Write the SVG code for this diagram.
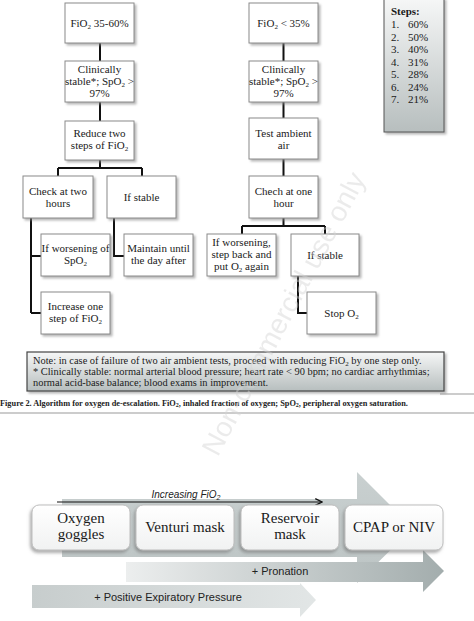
<svg xmlns="http://www.w3.org/2000/svg" width="474" height="621" viewBox="0 0 474 621">
<style>
.bx{fill:#fff;stroke:#8a8a8a;stroke-width:1;filter:url(#sh)}
.t{font-family:"Liberation Serif",serif;font-size:11px;fill:#1a1a1a;text-anchor:middle}
.c{stroke:#111;stroke-width:2;fill:none}
.st{font-family:"Liberation Serif",serif;font-size:11px;fill:#1a1a1a}
.nt{font-family:"Liberation Serif",serif;font-size:10.4px;fill:#1a1a1a}
.rb{fill:url(#wg);stroke:#bdbdbd;stroke-width:1;filter:url(#sh2)}
.bt{font-family:"Liberation Serif",serif;font-size:15px;fill:#1a1a1a;text-anchor:middle}
.at{font-family:"Liberation Sans",sans-serif;font-size:11px;fill:#222;text-anchor:middle}
</style>
<defs>
<filter id="sh" x="-10%" y="-10%" width="130%" height="130%"><feDropShadow dx="2" dy="2" stdDeviation="0.8" flood-color="#888" flood-opacity="0.6"/></filter>
<filter id="sh2" x="-15%" y="-15%" width="130%" height="140%"><feDropShadow dx="-1.5" dy="2.5" stdDeviation="1.5" flood-color="#777" flood-opacity="0.6"/></filter>
<linearGradient id="gg" x1="0" y1="0" x2="0" y2="1"><stop offset="0" stop-color="#f6f7f7"/><stop offset="1" stop-color="#b7bebe"/></linearGradient>
<linearGradient id="wg" x1="0" y1="0" x2="0" y2="1"><stop offset="0" stop-color="#ffffff"/><stop offset="1" stop-color="#f1f2f2"/></linearGradient>
<linearGradient id="bg" x1="0" y1="0" x2="0" y2="1"><stop offset="0" stop-color="#c9d0d0"/><stop offset="1" stop-color="#bcc4c4"/></linearGradient>
<linearGradient id="pg" x1="0" y1="0" x2="1" y2="0"><stop offset="0" stop-color="#eceeee"/><stop offset="1" stop-color="#a3adad"/></linearGradient>
<linearGradient id="eg" x1="0" y1="0" x2="1" y2="0"><stop offset="0" stop-color="#c7cdcd"/><stop offset="1" stop-color="#e2e6e6"/></linearGradient>
<marker id="ah" viewBox="0 0 10 10" refX="9" refY="5" markerWidth="7" markerHeight="7" orient="auto"><path d="M1,1 L9,5 L1,9" fill="none" stroke="#111" stroke-width="1.6"/></marker>
</defs>
<rect width="474" height="621" fill="#fff"/>

<g id="connectors">
<path class="c" d="M100,43V61 M100,102V121 M100,160V168 M58,168H142 M58,168V176 M142,168V176"/>
<path class="c" d="M31,218V313 M31,256H41 M31,313H41 M114,218V256H124"/>
<path class="c" d="M283.5,43V61 M283.5,102V118 M283.5,159V176 M283.5,218V226 M242,226H325 M242,226V234 M325,226V234 M298,276V313H307"/>
</g>

<g id="n1"><rect class="bx" x="65" y="3" width="69" height="40"/><text class="t" x="99.5" y="27">FiO<tspan font-size="7" dy="2">2</tspan><tspan dy="-2"> 35-60%</tspan></text></g>
<g id="n2"><rect class="bx" x="65" y="61" width="69" height="41"/><text class="t" x="99.5" y="73">Clinically</text><text class="t" x="99.5" y="85">stable*; SpO<tspan font-size="7" dy="2">2</tspan><tspan dy="-2"> &gt;</tspan></text><text class="t" x="99.5" y="97">97%</text></g>
<g id="n3"><rect class="bx" x="65" y="121" width="69" height="39"/><text class="t" x="99.5" y="137">Reduce two</text><text class="t" x="99.5" y="149">steps of FiO<tspan font-size="7" dy="2">2</tspan></text></g>
<g id="n4"><rect class="bx" x="23" y="176" width="70" height="42"/><text class="t" x="58" y="195">Check at two</text><text class="t" x="58" y="207">hours</text></g>
<g id="n5"><rect class="bx" x="107" y="176" width="69" height="42"/><text class="t" x="141.5" y="201">If stable</text></g>
<g id="n6"><rect class="bx" x="41" y="234" width="69" height="42"/><text class="t" x="75.5" y="252">If worsening of</text><text class="t" x="75.5" y="264">SpO<tspan font-size="7" dy="2">2</tspan></text></g>
<g id="n7"><rect class="bx" x="124" y="234" width="69" height="42"/><text class="t" x="158.5" y="252">Maintain until</text><text class="t" x="158.5" y="264">the day after</text></g>
<g id="n8"><rect class="bx" x="41" y="292" width="69" height="42"/><text class="t" x="75.5" y="310">Increase one</text><text class="t" x="75.5" y="322">step of FiO<tspan font-size="7" dy="2">2</tspan></text></g>

<g id="m1"><rect class="bx" x="249" y="3" width="69" height="40"/><text class="t" x="283.5" y="27">FiO<tspan font-size="7" dy="2">2</tspan><tspan dy="-2"> &lt; 35%</tspan></text></g>
<g id="m2"><rect class="bx" x="249" y="61" width="69" height="41"/><text class="t" x="283.5" y="73">Clinically</text><text class="t" x="283.5" y="85">stable*; SpO<tspan font-size="7" dy="2">2</tspan><tspan dy="-2"> &gt;</tspan></text><text class="t" x="283.5" y="97">97%</text></g>
<g id="m3"><rect class="bx" x="249" y="118" width="69" height="41"/><text class="t" x="283.5" y="137">Test ambient</text><text class="t" x="283.5" y="149">air</text></g>
<g id="m4"><rect class="bx" x="249" y="176" width="69" height="42"/><text class="t" x="283.5" y="195">Chech at one</text><text class="t" x="283.5" y="207">hour</text></g>
<g id="m5"><rect class="bx" x="207" y="234" width="69" height="42"/><text class="t" x="241.5" y="246">If worsening,</text><text class="t" x="241.5" y="258">step back and</text><text class="t" x="241.5" y="270">put O<tspan font-size="7" dy="2">2</tspan><tspan dy="-2"> again</tspan></text></g>
<g id="m6"><rect class="bx" x="291" y="234" width="68" height="42"/><text class="t" x="325" y="259">If stable</text></g>
<g id="m7"><rect class="bx" x="307" y="292" width="69" height="42"/><text class="t" x="341.5" y="317">Stop O<tspan font-size="7" dy="2">2</tspan></text></g>

<g id="steps">
<rect x="384" y="-2" width="60" height="134" fill="url(#gg)" stroke="#555" stroke-width="1" filter="url(#sh)"/>
<text class="st" x="391" y="15" font-weight="bold" font-size="11.5px">Steps:</text>
<g class="st">
<text x="391" y="28">1.</text><text x="408" y="28">60%</text>
<text x="391" y="40.5">2.</text><text x="408" y="40.5">50%</text>
<text x="391" y="53">3.</text><text x="408" y="53">40%</text>
<text x="391" y="65.5">4.</text><text x="408" y="65.5">31%</text>
<text x="391" y="78">5.</text><text x="408" y="78">28%</text>
<text x="391" y="90.5">6.</text><text x="408" y="90.5">24%</text>
<text x="391" y="103">7.</text><text x="408" y="103">21%</text>
</g>
</g>

<g id="note">
<line x1="440" y1="394" x2="474" y2="394" stroke="#999" stroke-width="1"/>
<rect x="27" y="352" width="417" height="39" fill="url(#gg)" stroke="#444" stroke-width="1.2" filter="url(#sh)"/>
<text class="nt" x="33" y="364">Note: in case of failure of two air ambient tests, proceed with reducing FiO<tspan font-size="7" dy="1.5">2</tspan><tspan dy="-1.5"> by one step only.</tspan></text>
<text class="nt" x="33" y="375">* Clinically  stable: normal arterial blood pressure; heart rate &lt; 90 bpm; no cardiac arrhythmias;</text>
<text class="nt" x="33" y="386">normal acid-base balance; blood exams in improvement.</text>
</g>

<g id="caption">
<text x="0" y="406" font-family="Liberation Serif,serif" font-size="8.3px" font-weight="bold" fill="#222">Figure 2. Algorithm for oxygen de-escalation. FiO<tspan font-size="6" dy="1">2</tspan><tspan dy="-1">, inhaled fraction of oxygen; SpO</tspan><tspan font-size="6" dy="1">2</tspan><tspan dy="-1">, peripheral oxygen saturation.</tspan></text>
<line x1="0" y1="413" x2="474" y2="413" stroke="#999" stroke-width="1"/>
</g>

<g id="bigarrow">
<path d="M62,499H357V472L413,528L357,583V557H62Z" fill="url(#bg)"/>
</g>
<g id="increasing">
<line x1="57" y1="502" x2="322" y2="502" stroke="#111" stroke-width="1.2" marker-end="url(#ah)"/>
<text x="186" y="498" font-family="Liberation Sans,sans-serif" font-size="10px" font-style="italic" fill="#222" text-anchor="middle">Increasing FiO<tspan font-size="7" dy="2">2</tspan></text>
</g>
<g id="pronation">
<path d="M126,562H423V550L444,571L423,592V582H126Z" fill="url(#pg)"/>
<text class="at" x="280" y="575">+ Pronation</text>
</g>
<g id="pep">
<path d="M32,585H300V583L316,600L300,617V608H32Z" fill="url(#eg)"/>
<text class="at" x="168" y="601">+ Positive Expiratory Pressure</text>
</g>

<g id="b1"><rect class="rb" x="32" y="505" width="98" height="45" rx="7"/><text class="bt" x="81" y="523">Oxygen</text><text class="bt" x="81" y="539">goggles</text></g>
<g id="b2"><rect class="rb" x="136" y="505" width="98" height="45" rx="7"/><text class="bt" x="185" y="532">Venturi mask</text></g>
<g id="b3"><rect class="rb" x="241" y="505" width="98" height="45" rx="7"/><text class="bt" x="290" y="523">Reservoir</text><text class="bt" x="290" y="539">mask</text></g>
<g id="b4"><rect class="rb" x="345" y="505" width="98" height="45" rx="7"/><text class="bt" x="394" y="532">CPAP or NIV</text></g>

<g id="watermark" opacity="0.45">
<text x="292" y="318" transform="rotate(-62 292 318)" font-family="Liberation Sans,sans-serif" font-size="28px" fill="#d4d4d4" text-anchor="middle">Non-commercial use only</text>
</g>
</svg>
